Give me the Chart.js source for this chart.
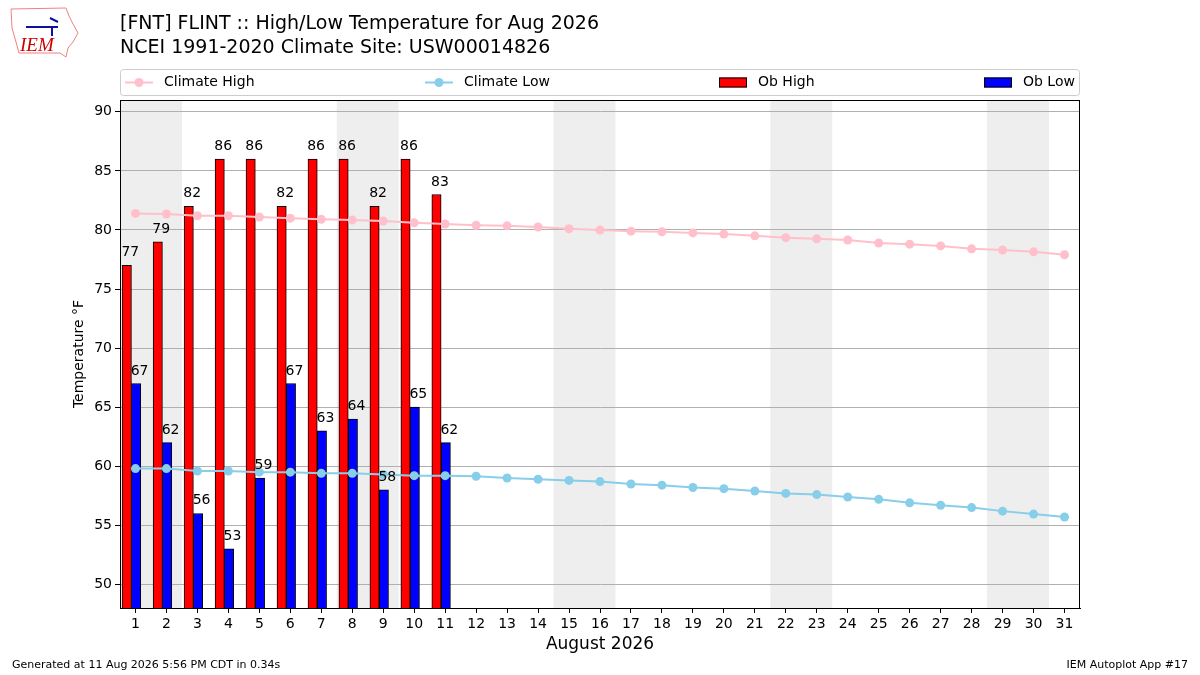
<!DOCTYPE html>
<html>
<head>
<meta charset="utf-8">
<script src="https://cdn.jsdelivr.net/npm/chart.js@4/dist/chart.umd.min.js"></script>
<style>
  body { margin: 0; background: #fff; }
  #wrap { width: 1200px; height: 675px; }
</style>
</head>
<body>
<div id="wrap"><canvas id="tempChart" width="1200" height="675"></canvas></div>
<script>
const days = ['1','2','3','4','5','6','7','8','9','10','11','12','13','14','15','16','17','18','19','20','21','22','23','24','25','26','27','28','29','30','31'];
const obDays = [1, 2, 3, 4, 5, 6, 7, 8, 9, 10, 11];
const obHigh = [77, 79, 82, 86, 86, 82, 86, 86, 82, 86, 83];
const obLow = [67, 62, 56, 53, 59, 67, 63, 64, 58, 65, 62];
const climHigh = [81.4, 81.35, 81.2, 81.2, 81.1, 81.0, 80.9, 80.85, 80.75, 80.6, 80.5, 80.4, 80.35, 80.25, 80.1, 80.0,
  79.9, 79.85, 79.75, 79.65, 79.5, 79.35, 79.25, 79.15, 78.9, 78.8, 78.65, 78.4, 78.3, 78.15, 77.9];
const climLow = [59.8, 59.8, 59.6, 59.6, 59.5, 59.5, 59.4, 59.4, 59.3, 59.2, 59.2, 59.15, 59.0, 58.9, 58.8, 58.7,
  58.5, 58.4, 58.2, 58.1, 57.9, 57.7, 57.6, 57.4, 57.2, 56.9, 56.7, 56.5, 56.2, 55.95, 55.7];
const weekendDays = [1, 2, 8, 9, 15, 16, 22, 23, 29, 30];
const yTicks = [50, 55, 60, 65, 70, 75, 80, 85, 90];

const FONT = '"DejaVu Sans", sans-serif';

// grey bands behind weekend days
const weekendShade = {
  id: 'weekendShade',
  beforeDraw(chart) {
    const {ctx, chartArea, scales} = chart;
    const w = scales.x.getPixelForValue(1) - scales.x.getPixelForValue(0);
    ctx.save();
    ctx.fillStyle = '#eeeeee';
    ctx.beginPath();
    weekendDays.forEach(d => {
      const cx = scales.x.getPixelForValue(d - 1);
      ctx.rect(cx - w / 2, chartArea.top, w, chartArea.bottom - chartArea.top);
    });
    ctx.fill('nonzero');
    ctx.restore();
  }
};

// numbers above the observed bars
const barLabels = {
  id: 'barLabels',
  afterDatasetsDraw(chart) {
    const {ctx} = chart;
    ctx.save();
    ctx.font = '14px ' + FONT;
    ctx.fillStyle = '#000';
    ctx.textAlign = 'center';
    ctx.textBaseline = 'alphabetic';
    chart.data.datasets.forEach((ds, i) => {
      if (ds.type !== 'bar') return;
      chart.getDatasetMeta(i).data.forEach((bar, j) => {
        ctx.fillText(String(ds.data[j].y), bar.x + 3.5, bar.y - 9);
      });
    });
    ctx.restore();
  }
};

// titles, legend, frame, footer, logo
const decorations = {
  id: 'decorations',
  afterDraw(chart) {
    const {ctx, chartArea} = chart;
    const L = chartArea.left;
    ctx.save();

    // frame
    ctx.strokeStyle = '#000';
    ctx.lineWidth = 1;
    ctx.strokeRect(Math.round(L) + 0.5, Math.round(chartArea.top) + 0.5,
      Math.round(chartArea.right - L) - 1, Math.round(chartArea.bottom - chartArea.top));

    // titles
    ctx.fillStyle = '#000';
    ctx.textAlign = 'left';
    ctx.textBaseline = 'middle';
    ctx.font = '19px ' + FONT;
    ctx.fillText('[FNT] FLINT :: High/Low Temperature for Aug 2026', L, 24);
    ctx.fillText('NCEI 1991-2020 Climate Site: USW00014826', L, 48);

    // legend box
    const top = 69.5, h = 26;
    ctx.beginPath();
    ctx.roundRect(L + 0.5, top, chartArea.right - L - 1, h, 3);
    ctx.fillStyle = 'rgba(255,255,255,0.8)';
    ctx.fill();
    ctx.strokeStyle = '#cccccc';
    ctx.stroke();
    const handleX = [L + 5, L + 305, L + 599, L + 864];
    const cy = top + h / 2;
    ctx.font = '14px ' + FONT;
    chart.data.datasets.forEach((ds, i) => {
      const x = handleX[i];
      if (ds.type === 'line') {
        ctx.strokeStyle = ds.borderColor;
        ctx.lineWidth = 2;
        ctx.beginPath();
        ctx.moveTo(x, cy);
        ctx.lineTo(x + 28, cy);
        ctx.stroke();
        ctx.fillStyle = ds.borderColor;
        ctx.beginPath();
        ctx.arc(x + 14, cy, 4.5, 0, Math.PI * 2);
        ctx.fill();
      } else {
        ctx.fillStyle = ds.backgroundColor;
        ctx.fillRect(x, cy - 5, 28, 10);
        ctx.strokeStyle = '#000';
        ctx.lineWidth = 1;
        ctx.strokeRect(x + 0.5, cy - 4.5, 27, 9);
      }
      ctx.fillStyle = '#000';
      ctx.fillText(ds.label, x + 39, cy);
    });

    // footer
    ctx.font = '11px ' + FONT;
    ctx.fillText('Generated at 11 Aug 2026 5:56 PM CDT in 0.34s', 12, 665);
    ctx.textAlign = 'right';
    ctx.fillText('IEM Autoplot App #17', 1188, 665);

    // logo
    ctx.strokeStyle = '#f08080';
    ctx.lineWidth = 1;
    ctx.beginPath();
    ctx.moveTo(11, 9); ctx.lineTo(66, 8); ctx.lineTo(69, 16); ctx.lineTo(73, 24);
    ctx.lineTo(78, 33); ctx.lineTo(73, 42); ctx.lineTo(68, 48); ctx.lineTo(66, 57);
    ctx.lineTo(60, 53); ctx.lineTo(19, 53); ctx.lineTo(16, 42); ctx.lineTo(12, 28); ctx.closePath();
    ctx.stroke();
    ctx.strokeStyle = '#1010a0';
    ctx.lineWidth = 2;
    ctx.beginPath();
    ctx.moveTo(26, 27); ctx.lineTo(58, 27); ctx.moveTo(50, 18); ctx.lineTo(58, 22);
    ctx.moveTo(52, 27); ctx.lineTo(52, 36);
    ctx.stroke();
    ctx.fillStyle = '#cc0000';
    ctx.textAlign = 'left';
    ctx.font = 'italic 19px "Liberation Serif", serif';
    ctx.fillText('IEM', 20, 46);

    ctx.restore();
  }
};

new Chart(document.getElementById('tempChart'), {
  type: 'line',
  data: {
    labels: days,
    datasets: [
      {
        type: 'line',
        label: 'Climate High',
        data: climHigh,
        borderColor: '#FFC0CB',
        backgroundColor: '#FFC0CB',
        borderWidth: 2,
        pointRadius: 4.5,
        pointBorderWidth: 0,
        tension: 0
      },
      {
        type: 'line',
        label: 'Climate Low',
        data: climLow,
        borderColor: '#87CEEB',
        backgroundColor: '#87CEEB',
        borderWidth: 2,
        pointRadius: 4.5,
        pointBorderWidth: 0,
        tension: 0
      },
      {
        type: 'bar',
        label: 'Ob High',
        xAxisID: 'xb',
        data: obDays.map((d, i) => ({x: d, y: obHigh[i]})),
        backgroundColor: '#FF0000',
        borderColor: '#000',
        borderWidth: 1,
        barThickness: 9.3
      },
      {
        type: 'bar',
        label: 'Ob Low',
        xAxisID: 'xb',
        data: obDays.map((d, i) => ({x: d, y: obLow[i]})),
        backgroundColor: '#0000FF',
        borderColor: '#000',
        borderWidth: 1,
        barThickness: 9.3
      }
    ]
  },
  options: {
    responsive: false,
    animation: false,
    devicePixelRatio: 1,
    layout: { padding: { top: 100, right: 120, left: 0, bottom: 0 } },
    plugins: {
      legend: { display: false },
      title: { display: false },
      tooltip: { enabled: false }
    },
    scales: {
      x: {
        type: 'category',
        offset: true,
        grid: { offset: false, drawOnChartArea: false, drawTicks: true, tickLength: 5, tickColor: '#000' },
        border: { display: true, color: '#000' },
        ticks: { color: '#000', font: { family: FONT, size: 14 }, padding: 3, maxRotation: 0, autoSkip: false },
        title: { display: true, text: 'August 2026', color: '#000', font: { family: FONT, size: 17 }, padding: { top: 0, bottom: 20 } },
        afterFit(scale) { scale.height = 67; }
      },
      xb: {
        type: 'linear',
        display: false,
        offset: false,
        grid: { offset: false },
        min: 0.63,
        max: 31.63
      },
      y: {
        min: 48,
        max: 91,
        afterBuildTicks(scale) { scale.ticks = yTicks.map(v => ({value: v})); },
        grid: { color: '#b0b0b0', lineWidth: 1, tickLength: 5, tickColor: '#000' },
        border: { display: true, color: '#000' },
        ticks: { color: '#000', font: { family: FONT, size: 14 }, padding: 3 },
        title: { display: true, text: 'Temperature °F', color: '#000', font: { family: FONT, size: 14 }, padding: { top: 71, bottom: 0 } },
        afterFit(scale) { scale.width = 120; }
      }
    }
  },
  plugins: [weekendShade, barLabels, decorations]
});
</script>
</body>
</html>
